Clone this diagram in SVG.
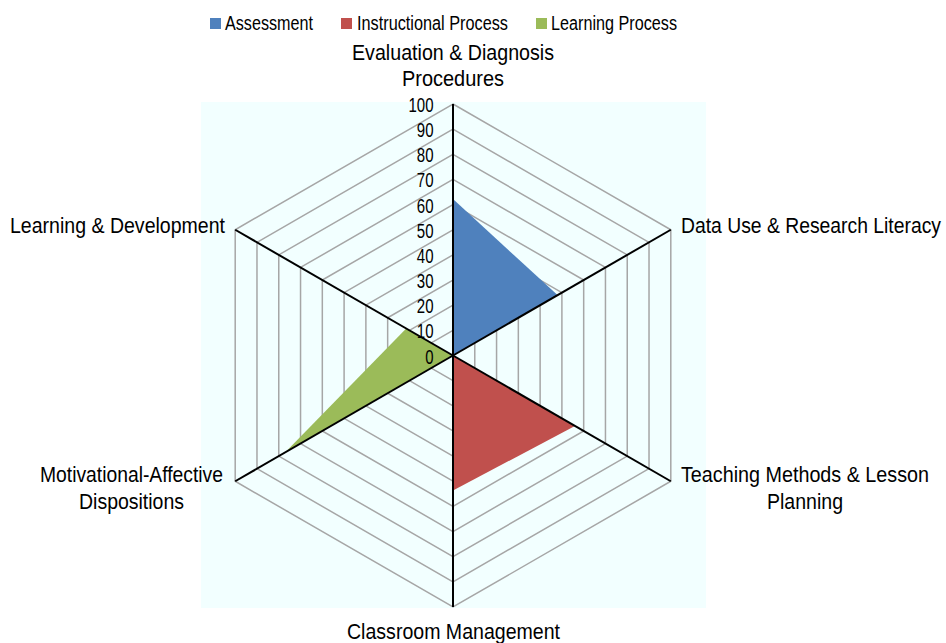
<svg xmlns="http://www.w3.org/2000/svg" width="946" height="643" viewBox="0 0 946 643">
<style>
.lbl{font-family:"Liberation Sans",Arial,sans-serif;font-size:22px;fill:#000}
.leg{font-family:"Liberation Sans",Arial,sans-serif;font-size:20px;fill:#000}
.num{font-family:"Liberation Sans",Arial,sans-serif;font-size:19.5px;fill:#000;text-anchor:end}
.grid{fill:none;stroke:#A6A6A6;stroke-width:1.5}
.axis{stroke:#000;stroke-width:2}
</style>
<rect x="0" y="0" width="946" height="643" fill="#FFFFFF"/>
<rect id="plot-area" x="201" y="102" width="505" height="506" fill="#F2FFFF"/>
<g id="grid">
<polygon class="grid" points="453,330.35 474.78,342.92 474.78,368.08 453,380.65 431.22,368.08 431.22,342.92"/>
<polygon class="grid" points="453,305.2 496.56,330.35 496.56,380.65 453,405.8 409.44,380.65 409.44,330.35"/>
<polygon class="grid" points="453,280.05 518.34,317.77 518.34,393.23 453,430.95 387.66,393.23 387.66,317.77"/>
<polygon class="grid" points="453,254.9 540.12,305.2 540.12,405.8 453,456.1 365.88,405.8 365.88,305.2"/>
<polygon class="grid" points="453,229.75 561.9,292.62 561.9,418.38 453,481.25 344.1,418.38 344.1,292.62"/>
<polygon class="grid" points="453,204.6 583.68,280.05 583.68,430.95 453,506.4 322.32,430.95 322.32,280.05"/>
<polygon class="grid" points="453,179.45 605.46,267.47 605.46,443.53 453,531.55 300.54,443.53 300.54,267.47"/>
<polygon class="grid" points="453,154.3 627.24,254.9 627.24,456.1 453,556.7 278.76,456.1 278.76,254.9"/>
<polygon class="grid" points="453,129.15 649.02,242.32 649.02,468.68 453,581.85 256.98,468.68 256.98,242.32"/>
<polygon class="grid" points="453,104 670.8,229.75 670.8,481.25 453,607 235.2,481.25 235.2,229.75"/>
</g>
<g id="series-assessment">
<polygon points="453,355.5 453,199.1 557.5,295.1" fill="#4F81BD"/>
</g>
<g id="series-instructional">
<polygon points="453,355.5 574.9,425.9 453,490.6" fill="#C0504D"/>
</g>
<g id="series-learning">
<polygon points="453,355.5 285.3,452.3 406.2,328.5" fill="#9BBB59"/>
</g>
<g id="axes">
<line class="axis" x1="453" y1="355.5" x2="453" y2="104"/>
<line class="axis" x1="453" y1="355.5" x2="670.8" y2="229.75"/>
<line class="axis" x1="453" y1="355.5" x2="670.8" y2="481.25"/>
<line class="axis" x1="453" y1="355.5" x2="453" y2="607"/>
<line class="axis" x1="453" y1="355.5" x2="235.2" y2="481.25"/>
<line class="axis" x1="453" y1="355.5" x2="235.2" y2="229.75"/>
</g>
<g id="axis-values">
<text class="num" x="433.5" y="363.5" textLength="8.3" lengthAdjust="spacingAndGlyphs">0</text>
<text class="num" x="433.5" y="338.35" textLength="16.7" lengthAdjust="spacingAndGlyphs">10</text>
<text class="num" x="433.5" y="313.2" textLength="16.7" lengthAdjust="spacingAndGlyphs">20</text>
<text class="num" x="433.5" y="288.05" textLength="16.7" lengthAdjust="spacingAndGlyphs">30</text>
<text class="num" x="433.5" y="262.9" textLength="16.7" lengthAdjust="spacingAndGlyphs">40</text>
<text class="num" x="433.5" y="237.75" textLength="16.7" lengthAdjust="spacingAndGlyphs">50</text>
<text class="num" x="433.5" y="212.6" textLength="16.7" lengthAdjust="spacingAndGlyphs">60</text>
<text class="num" x="433.5" y="187.45" textLength="16.7" lengthAdjust="spacingAndGlyphs">70</text>
<text class="num" x="433.5" y="162.3" textLength="16.7" lengthAdjust="spacingAndGlyphs">80</text>
<text class="num" x="433.5" y="137.15" textLength="16.7" lengthAdjust="spacingAndGlyphs">90</text>
<text class="num" x="433.5" y="112" textLength="25" lengthAdjust="spacingAndGlyphs">100</text>
</g>
<g id="label-evaluation">
<text class="lbl" x="352" y="59.5" textLength="202" lengthAdjust="spacingAndGlyphs">Evaluation &amp; Diagnosis</text>
<text class="lbl" x="402" y="86" textLength="102" lengthAdjust="spacingAndGlyphs">Procedures</text>
</g>
<g id="label-datause">
<text class="lbl" x="681" y="232.5" textLength="260" lengthAdjust="spacingAndGlyphs">Data Use &amp; Research Literacy</text>
</g>
<g id="label-teaching">
<text class="lbl" x="681" y="482" textLength="248" lengthAdjust="spacingAndGlyphs">Teaching Methods &amp; Lesson</text>
<text class="lbl" x="767" y="508.5" textLength="76" lengthAdjust="spacingAndGlyphs">Planning</text>
</g>
<g id="label-classroom">
<text class="lbl" x="347" y="639" textLength="213" lengthAdjust="spacingAndGlyphs">Classroom Management</text>
</g>
<g id="label-motivational">
<text class="lbl" x="40" y="482" textLength="183" lengthAdjust="spacingAndGlyphs">Motivational-Affective</text>
<text class="lbl" x="79" y="508.5" textLength="105" lengthAdjust="spacingAndGlyphs">Dispositions</text>
</g>
<g id="label-learning">
<text class="lbl" x="10" y="233" textLength="215" lengthAdjust="spacingAndGlyphs">Learning &amp; Development</text>
</g>
<g id="legend">
<rect x="210" y="18" width="11" height="11" fill="#4F81BD"/>
<text class="leg" x="225" y="29.5" textLength="88" lengthAdjust="spacingAndGlyphs">Assessment</text>
<rect x="341" y="18" width="11" height="11" fill="#C0504D"/>
<text class="leg" x="357" y="29.5" textLength="151" lengthAdjust="spacingAndGlyphs">Instructional Process</text>
<rect x="536" y="18" width="11" height="11" fill="#9BBB59"/>
<text class="leg" x="551" y="29.5" textLength="126" lengthAdjust="spacingAndGlyphs">Learning Process</text>
</g>
</svg>
